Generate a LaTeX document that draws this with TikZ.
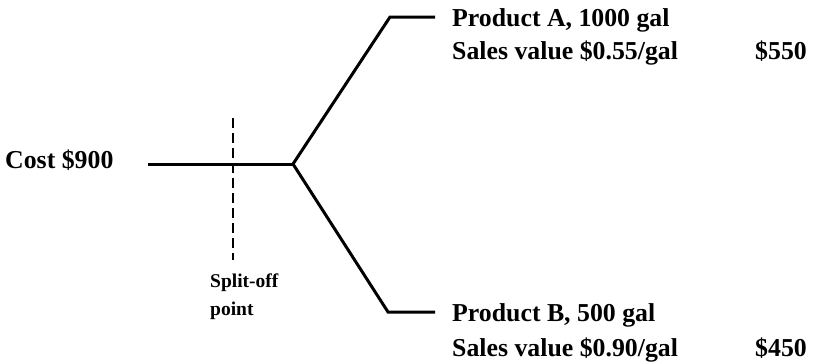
\documentclass[tikz,border=0pt]{standalone}
\usepackage{fontspec}
\setmainfont{Liberation Serif}
\begin{document}
\begin{tikzpicture}[x=1pt,y=-1pt,
  flow/.style={line width=3pt, line join=miter},
  splitline/.style={line width=2.6pt, dash pattern=on 10pt off 5pt},
  big/.style={font=\bfseries\fontsize{25.8}{28}\selectfont, inner sep=0pt, anchor=base west},
  small/.style={font=\bfseries\fontsize{19.5}{22}\selectfont, inner sep=0pt, anchor=base west}]
  \useasboundingbox (0,0) rectangle (814,364);
  % labels
  \node[big] (cost) at (5,168) {Cost \$900};
  \node[big] (pa) at (452,26) {Product A, 1000 gal};
  \node[big] (sa) at (452,59) {Sales value \$0.55/gal};
  \node[big] (va) at (755,59) {\$550};
  \node[big] (pb) at (452,321) {Product B, 500 gal};
  \node[big] (sb) at (452,356) {Sales value \$0.90/gal};
  \node[big] (vb) at (755,356) {\$450};
  \node[small] (sp1) at (210,287) {Split-off};
  \node[small] (sp2) at (210,315) {point};
  % flow lines
  \coordinate (in) at (148,164);
  \coordinate (split) at (293,164);
  \coordinate (ka) at (390,17);
  \coordinate (ea) at (435,17);
  \coordinate (kb) at (388,312);
  \coordinate (eb) at (435,312);
  \coordinate (dtop) at (233,118);
  \coordinate (dbot) at (233,260);
  \draw[flow] (in) -- (split);
  \draw[flow] (ea) -- (ka) -- (split) -- (kb) -- (eb);
  \draw[splitline] (dtop) -- (dbot);
\end{tikzpicture}
\end{document}
